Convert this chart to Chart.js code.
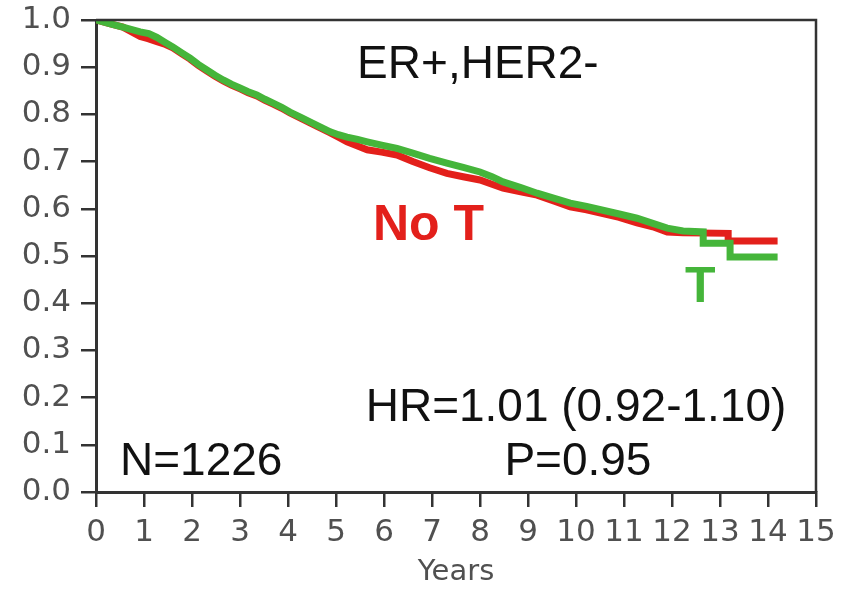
<!DOCTYPE html>
<html>
<head>
<meta charset="utf-8">
<script src="https://cdn.jsdelivr.net/npm/chart.js@4.4.0/dist/chart.umd.min.js"></script>
<style>
  html,body{margin:0;padding:0;background:#fff;}
  #box{width:849px;height:590px;}
</style>
</head>
<body>
<div id="box"><canvas id="kmChart" width="849" height="590"></canvas></div>
<script>
// survival curves (years, fraction surviving)
// a repeated time means a vertical drop at that time
const timeT = [0,0.3,0.56,0.92,1.1,1.27,1.45,1.6,1.78,1.96,2.13,2.31,2.48,2.65,2.82,3.0,3.17,3.35,3.52,3.69,3.87,4.04,4.28,4.52,4.7,4.88,5.05,5.23,5.45,5.65,5.95,6.27,6.6,6.95,7.31,7.65,8.0,8.25,8.48,8.85,9.19,9.55,9.88,10.22,10.56,10.9,11.27,11.6,11.9,12.23,12.65,12.65,13.21,13.21,14.2];
const survT = [1.0,0.992,0.985,0.975,0.971,0.963,0.952,0.943,0.931,0.919,0.906,0.894,0.883,0.873,0.864,0.856,0.848,0.841,0.832,0.824,0.815,0.805,0.793,0.781,0.772,0.763,0.757,0.752,0.747,0.742,0.735,0.728,0.718,0.707,0.697,0.688,0.678,0.668,0.657,0.645,0.633,0.622,0.612,0.605,0.597,0.589,0.580,0.569,0.559,0.553,0.551,0.527,0.527,0.498,0.498];

const timeNoT = [0,0.3,0.56,0.92,1.1,1.27,1.45,1.6,1.78,1.96,2.13,2.31,2.48,2.65,2.82,3.0,3.17,3.35,3.52,3.69,3.87,4.04,4.28,4.52,4.7,4.88,5.05,5.23,5.45,5.65,5.95,6.27,6.6,6.95,7.31,7.65,8.0,8.25,8.48,8.85,9.19,9.55,9.88,10.22,10.56,10.9,11.27,11.6,11.9,12.23,13.17,13.17,14.2];
const survNoT = [1.0,0.992,0.985,0.965,0.960,0.954,0.948,0.941,0.929,0.917,0.904,0.892,0.881,0.871,0.862,0.854,0.846,0.839,0.830,0.822,0.813,0.803,0.791,0.779,0.770,0.761,0.752,0.742,0.733,0.725,0.720,0.714,0.700,0.687,0.675,0.668,0.661,0.652,0.644,0.636,0.629,0.616,0.604,0.598,0.590,0.582,0.570,0.562,0.551,0.549,0.548,0.532,0.532];

const xTicks = [0,1,2,3,4,5,6,7,8,9,10,11,12,13,14,15];
const yTicks = [0,0.1,0.2,0.3,0.4,0.5,0.6,0.7,0.8,0.9,1.0];

// text notes placed in data units
const notes = [
  {text:'ER+,HER2-', x:5.44, y:0.878, align:'left', font:'46px "Liberation Sans", Arial, sans-serif', color:'#111'},
  {text:'No T', x:5.77, y:0.534, align:'left', font:'bold 50px "Liberation Sans", Arial, sans-serif', color:'#e3201b'},
  {text:'T', x:12.27, y:0.403, align:'left', font:'bold 50px "Liberation Sans", Arial, sans-serif', color:'#45b53a'},
  {text:'HR=1.01 (0.92-1.10)', x:10.0, y:0.151, align:'center', font:'46px "Liberation Sans", Arial, sans-serif', color:'#111'},
  {text:'N=1226', x:0.5, y:0.036, align:'left', font:'46px "Liberation Sans", Arial, sans-serif', color:'#111'},
  {text:'P=0.95', x:10.04, y:0.036, align:'center', font:'46px "Liberation Sans", Arial, sans-serif', color:'#111'}
];

function toPoints(xs,ys){
  return xs.map((x,i)=>({x:x,y:ys[i]}));
}

const frameAndNotes = {
  id:'frameAndNotes',
  afterDatasetsDraw(chart){
    const ctx=chart.ctx, a=chart.chartArea;
    const sx=chart.scales.x, sy=chart.scales.y;
    ctx.save();
    // top and right sides of the box
    ctx.strokeStyle='#333';
    ctx.lineWidth=2.5;
    ctx.beginPath();
    ctx.moveTo(a.left,a.top);
    ctx.lineTo(a.right,a.top);
    ctx.lineTo(a.right,a.bottom);
    ctx.stroke();
    notes.forEach(n=>{
      ctx.font=n.font;
      ctx.fillStyle=n.color;
      ctx.textAlign=n.align;
      ctx.textBaseline='alphabetic';
      ctx.fillText(n.text, sx.getPixelForValue(n.x), sy.getPixelForValue(n.y));
    });
    ctx.restore();
  }
};

const tickFont = {family:'"DejaVu Sans", Verdana, sans-serif', size:31};

const ctx=document.getElementById('kmChart').getContext('2d');
const kmChart=new Chart(ctx,{
  type:'line',
  data:{
    datasets:[
      {
        label:'T',
        data:toPoints(timeT,survT),
        borderColor:'#45b53a',
        borderWidth:7,
        pointRadius:0,
        fill:false,
        order:1
      },
      {
        label:'No T',
        data:toPoints(timeNoT,survNoT),
        borderColor:'#e3201b',
        borderWidth:7,
        pointRadius:0,
        fill:false,
        order:2
      }
    ]
  },
  options:{
    responsive:false,
    animation:false,
    layout:{padding:{top:20,right:33,left:0,bottom:0}},
    plugins:{
      legend:{display:false},
      tooltip:{enabled:false}
    },
    scales:{
      x:{
        type:'linear',
        min:0,
        max:15,
        afterBuildTicks:(s)=>{ s.ticks=xTicks.map(v=>({value:v})); },
        afterFit:(s)=>{ s.height=98; s.paddingLeft=0; s.paddingRight=0; },
        ticks:{
          font:tickFont,
          color:'#505050',
          padding:7,
          maxRotation:0,
          autoSkip:false,
          callback:(v)=>String(v)
        },
        grid:{drawOnChartArea:false, drawTicks:true, tickLength:15, color:'#333', lineWidth:2.5},
        border:{display:true, color:'#333', width:3},
        title:{display:true, text:'Years', color:'#505050', font:{family:'"DejaVu Sans", Verdana, sans-serif', size:29}, padding:{top:0,bottom:0}}
      },
      y:{
        type:'linear',
        min:0,
        max:1,
        afterBuildTicks:(s)=>{ s.ticks=yTicks.map(v=>({value:v})); },
        afterFit:(s)=>{ s.width=96; s.paddingTop=0; s.paddingBottom=0; },
        ticks:{
          font:tickFont,
          color:'#505050',
          padding:10,
          callback:(v)=>Number(v).toFixed(1)
        },
        grid:{drawOnChartArea:false, drawTicks:true, tickLength:15, color:'#333', lineWidth:2.5},
        border:{display:true, color:'#333', width:3}
      }
    }
  },
  plugins:[frameAndNotes]
});
</script>
</body>
</html>
